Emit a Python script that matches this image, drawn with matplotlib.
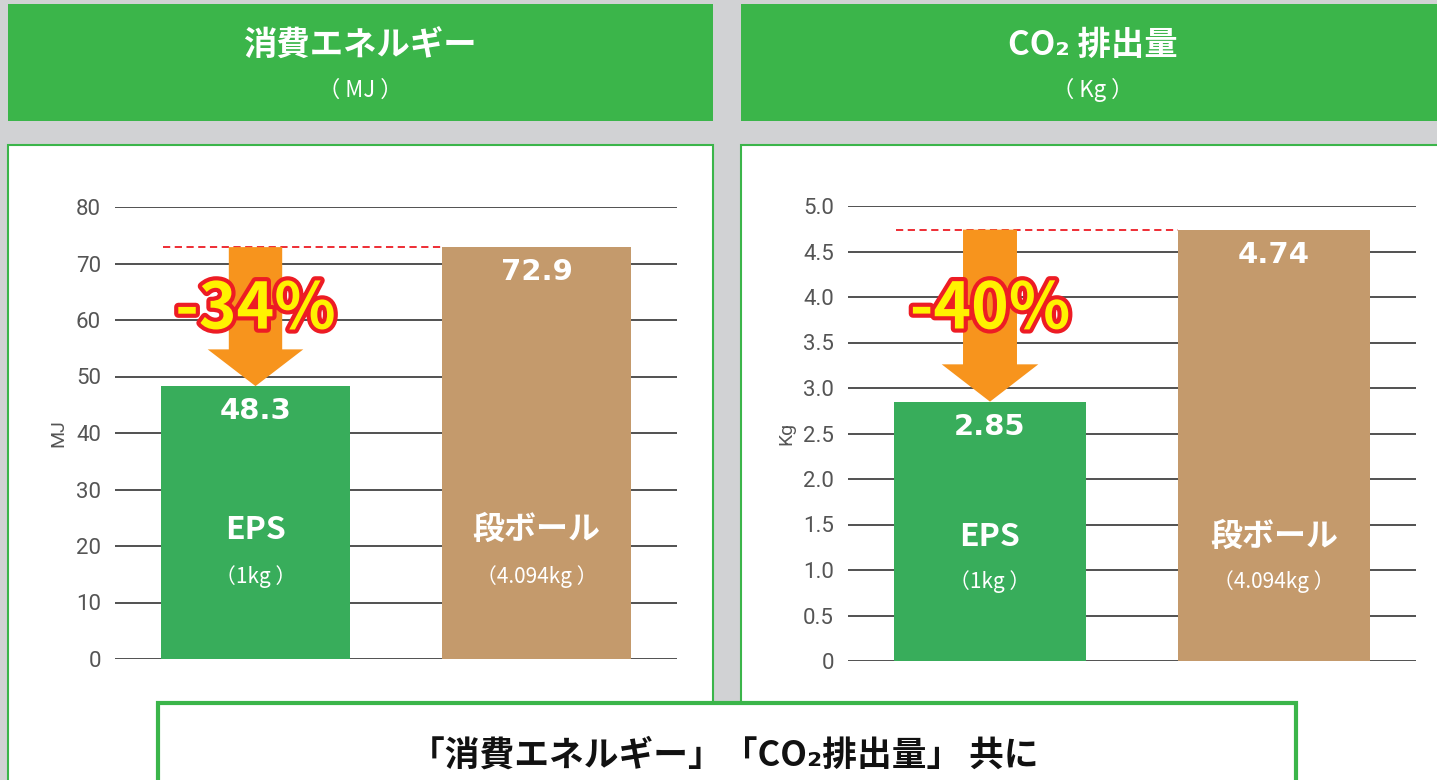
import matplotlib
matplotlib.use("Agg")
import matplotlib.pyplot as plt
from matplotlib.patches import Rectangle
import matplotlib.patheffects as pe

plt.rcParams['font.family'] = ['Noto Sans CJK JP', 'DejaVu Sans']

# data
materials = ['EPS', '段ボール']
material_notes = ['（1kg ）', '（4.094kg ）']
energy = [48.3, 72.9]
co2 = [2.85, 4.74]
energy_ticks = [0, 10, 20, 30, 40, 50, 60, 70, 80]
co2_ticks = [0, 0.5, 1.0, 1.5, 2.0, 2.5, 3.0, 3.5, 4.0, 4.5, 5.0]
energy_cut = '-34%'
co2_cut = '-40%'

GREEN = '#3BB54A'
BAR_GREEN = '#38AD5B'
BROWN = '#C49A6C'
ORANGE = '#F7941D'
RED = '#ED1C24'
GRAY_BG = '#D1D2D4'

W, H = 1437, 780
fig = plt.figure(figsize=(W / 100, H / 100), dpi=100)
fig.patch.set_facecolor(GRAY_BG)

# background layer in pixel coords
bg = fig.add_axes([0, 0, 1, 1])
bg.set_xlim(0, W)
bg.set_ylim(H, 0)
bg.axis('off')
bg.add_patch(Rectangle((8, 4), 705, 117, facecolor=GREEN, edgecolor='none'))
bg.add_patch(Rectangle((741, 4), 704, 117, facecolor=GREEN, edgecolor='none'))
bg.add_patch(Rectangle((8, 145), 705, 650, facecolor='white', edgecolor=GREEN, lw=1.5))
bg.add_patch(Rectangle((741, 145), 704, 650, facecolor='white', edgecolor=GREEN, lw=1.5))
bg.add_patch(Rectangle((158, 703), 1138, 90, facecolor='white', edgecolor=GREEN, lw=3))

bg.text(360, 46, '消費エネルギー', color='white', fontsize=24, fontweight='bold',
        ha='center', va='center')
bg.text(360, 90, '（ MJ ）', color='white', fontsize=16, ha='center', va='center')
bg.text(1093, 46, 'CO₂ 排出量', color='white', fontsize=24, fontweight='bold',
        ha='center', va='center')
bg.text(1093, 90, '（ Kg ）', color='white', fontsize=16, ha='center', va='center')
bg.text(724, 755, '「消費エネルギー」「CO₂排出量」 共に', color='#111111', fontsize=25,
        fontweight='bold', ha='center', va='center')


def panel(rect, values, ticks, ticklabels, ylabel, cut, cut_y, name_y, note_y, head_len):
    ax = fig.add_axes(rect)
    ax.set_facecolor('none')
    x = [0, 1]
    w = 0.675
    ax.bar(x, values, width=w, color=[BAR_GREEN, BROWN], zorder=3)
    ax.set_xlim(-0.5, 1.5)
    ax.set_ylim(ticks[0], ticks[-1])
    ax.set_yticks(ticks)
    ax.set_yticklabels(ticklabels, fontsize=16, color='#555555', family='Roboto')
    ax.set_xticks([])
    ax.tick_params(axis='y', length=0, pad=10)
    ax.grid(axis='y', color='#333333', lw=1.2, zorder=1)
    for s in ax.spines.values():
        s.set_visible(False)
    ax.set_ylabel(ylabel, fontsize=14, color='#555555', family='Roboto', labelpad=6)

    top = ticks[-1]
    off = top * 0.055
    for i, v in enumerate(values):
        lbl = f'{v:.1f}' if top > 10 else f'{v:.2f}'
        ax.text(x[i], v - off, lbl, color='white', fontsize=21, fontweight='bold',
                family='DejaVu Sans', ha='center', va='center', zorder=5)
        ax.text(x[i], name_y, materials[i], color='white', fontsize=23, fontweight='bold',
                ha='center', va='center', zorder=5)
        ax.text(x[i], note_y, material_notes[i], color='white', fontsize=15,
                ha='center', va='center', zorder=5)

    # reference dashed line and arrow
    ax.plot([-0.33, 1 - w / 2], [values[1], values[1]], color=RED, lw=1.3,
            ls=(0, (4, 2.5)), zorder=4)
    ax.arrow(0, values[1], 0, values[0] - values[1], width=0.19, head_width=0.34,
             head_length=head_len, length_includes_head=True, color=ORANGE,
             lw=0, zorder=5)
    ax.text(0, cut_y, cut, color='#FFF200', fontsize=46, fontweight='bold',
            ha='center', va='center', zorder=6,
            path_effects=[pe.withStroke(linewidth=6, foreground=RED)])
    return ax


panel([115 / W, (H - 659) / H, 562 / W, 452 / H], energy, energy_ticks,
      [str(t) for t in energy_ticks], 'MJ', energy_cut, 61.8, 22.8, 14.5, 6.5)
panel([848 / W, (H - 661) / H, 568 / W, 455 / H], co2, co2_ticks,
      [f'{t:.1f}' if t else '0' for t in co2_ticks], 'Kg', co2_cut, 3.86, 1.36, 0.87, 0.41)

plt.savefig('out.png', dpi=100, facecolor=fig.get_facecolor())
